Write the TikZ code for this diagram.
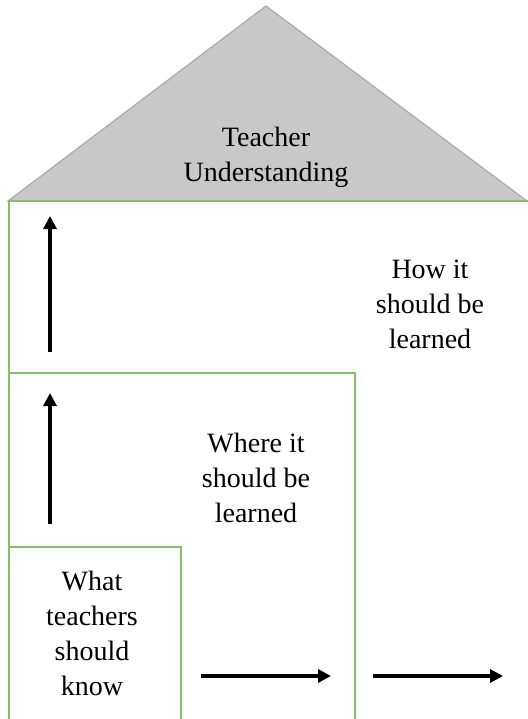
\documentclass[tikz,border=0pt]{standalone}
\usepackage{fontspec}
\setmainfont{Liberation Serif}
\usetikzlibrary{positioning, arrows.meta}
\definecolor{boxgreen}{RGB}{130,192,100}
\definecolor{roofgray}{RGB}{200,200,200}
\definecolor{roofline}{RGB}{170,170,170}

\begin{document}
\begin{tikzpicture}[x=0.5pt, y=-0.5pt,
  box/.style={draw=boxgreen, line width=0.75pt},
  label node/.style={align=center, inner sep=0pt, font=\fontsize{14}{17.5}\selectfont},
  step arrow/.style={-{Triangle[length=6.5pt,width=6.5pt]}, line width=1.8pt}]

\useasboundingbox (0,0) rectangle (527,719);

% roof
\path[fill=roofgray, draw=roofline, line width=0.6pt] (8,201) -- (266,6) -- (527,201) -- cycle;

% nested boxes
\draw[box] (9,201) rectangle (540,730);
\draw[box] (9,373) rectangle (355,730);
\draw[box] (9,547) rectangle (181,730);

\node[label node] (roof) at (266,157) {Teacher\\Understanding};
\node[label node] (how) at (430,304) {How it\\should be\\learned};
\node[label node] (where) at (256,478) {Where it\\should be\\learned};
\node[label node] (what) at (92,633) {What\\teachers\\should\\know};

\coordinate (up1 start) at (50,352);
\coordinate (up1 end) at (50,216);
\coordinate (up2 start) at (50,524);
\coordinate (up2 end) at (50,393);
\coordinate (right1 start) at (201,676);
\coordinate (right1 end) at (331,676);
\coordinate (right2 start) at (373,676);
\coordinate (right2 end) at (503,676);

\draw[step arrow] (up1 start) -- (up1 end);
\draw[step arrow] (up2 start) -- (up2 end);
\draw[step arrow] (right1 start) -- (right1 end);
\draw[step arrow] (right2 start) -- (right2 end);
\end{tikzpicture}
\end{document}
